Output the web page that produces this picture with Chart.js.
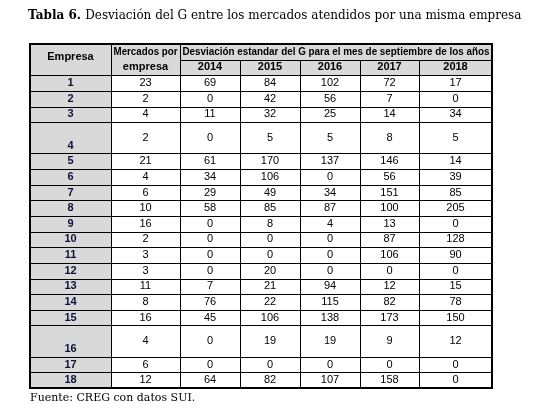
<!DOCTYPE html>
<html>
<head>
<meta charset="utf-8">
<script src="https://cdn.jsdelivr.net/npm/chart.js@4"></script>
<style>
  body { margin: 0; background: #fff; }
  #wrap { width: 545px; height: 410px; }
</style>
</head>
<body>
<div id="wrap"><canvas id="tabla"></canvas></div>
<script>
// datos de la tabla
const empresas = ['1','2','3','4','5','6','7','8','9','10','11','12','13','14','15','16','17','18'];
const mercados = [23, 2, 4, 2, 21, 4, 6, 10, 16, 2, 3, 3, 11, 8, 16, 4, 6, 12];
const anios = ['2014', '2015', '2016', '2017', '2018'];
const v2014 = [69, 0, 11, 0, 61, 34, 29, 58, 0, 0, 0, 0, 7, 76, 45, 0, 0, 64];
const v2015 = [84, 42, 32, 5, 170, 106, 49, 85, 8, 0, 0, 20, 21, 22, 106, 19, 0, 82];
const v2016 = [102, 56, 25, 5, 137, 0, 34, 87, 4, 0, 0, 0, 94, 115, 138, 19, 0, 107];
const v2017 = [72, 7, 14, 8, 146, 56, 151, 100, 13, 87, 106, 0, 12, 82, 173, 9, 0, 158];
const v2018 = [17, 0, 34, 5, 14, 39, 85, 205, 0, 128, 90, 0, 15, 78, 150, 12, 0, 0];
const filasDobles = ['4', '16'];

const series = [mercados, v2014, v2015, v2016, v2017, v2018];
const bordesCol = [0, 81, 150, 210, 270, 330, 389, 462]; // unidades del eje x
const altoHeader = 2;

// acumulado de filas (unidades eje y)
const inicioFila = [];
let acum = altoHeader;
empresas.forEach(e => {
    inicioFila.push(acum);
    acum += filasDobles.includes(e) ? 2 : 1;
});
const totalY = acum;

const GRIS = '#d9d9d9';
const fuenteTabla = 'Liberation Sans, Arial, sans-serif';

// texto centrado comprimido horizontalmente si no cabe
function textoAjustado(ctx, txt, cx, cy, ancho) {
    const w = ctx.measureText(txt).width;
    const k = Math.min(1, ancho / w);
    ctx.save();
    ctx.translate(cx, cy);
    ctx.scale(k, 1);
    ctx.fillText(txt, 0, 0);
    ctx.restore();
}

const tablaPlugin = {
    id: 'tabla',
    afterDraw(chart) {
        const { ctx, scales: { x, y } } = chart;
        const px = v => x.getPixelForValue(v);
        const py = v => y.getPixelForValue(v);
        ctx.save();

        // fondos
        ctx.fillStyle = GRIS;
        ctx.fillRect(px(0), py(0), px(bordesCol[7]) - px(0), py(altoHeader) - py(0));
        ctx.fillRect(px(0), py(0), px(bordesCol[1]) - px(0), py(totalY) - py(0));

        // lineas
        ctx.strokeStyle = '#000';
        ctx.lineWidth = 1;
        const linea = (x1, y1, x2, y2) => {
            ctx.beginPath();
            ctx.moveTo(Math.round(x1) + 0.5, Math.round(y1) + 0.5);
            ctx.lineTo(Math.round(x2) + 0.5, Math.round(y2) + 0.5);
            ctx.stroke();
        };
        linea(px(bordesCol[2]), py(1), px(bordesCol[7]), py(1));
        linea(px(0), py(altoHeader), px(bordesCol[7]), py(altoHeader));
        inicioFila.forEach(f => { if (f > altoHeader) linea(px(0), py(f), px(bordesCol[7]), py(f)); });
        for (let i = 1; i < bordesCol.length - 1; i++) {
            const y0 = (i >= 3) ? 1 : 0;
            linea(px(bordesCol[i]), py(y0), px(bordesCol[i]), py(totalY));
        }
        ctx.lineWidth = 2;
        ctx.strokeRect(px(0), py(0), px(bordesCol[7]) - px(0), py(totalY) - py(0));

        // encabezados
        ctx.fillStyle = '#000';
        ctx.textAlign = 'center';
        ctx.textBaseline = 'middle';
        ctx.font = 'bold 11px ' + fuenteTabla;
        const cx = (a, b) => (px(bordesCol[a]) + px(bordesCol[b])) / 2;
        const an = (a, b) => px(bordesCol[b]) - px(bordesCol[a]) - 5;
        textoAjustado(ctx, 'Empresa', cx(0, 1), py(0.85), an(0, 1));
        textoAjustado(ctx, 'Mercados por', cx(1, 2), py(0.5), an(1, 2));
        textoAjustado(ctx, 'empresa', cx(1, 2), py(1.5), an(1, 2));
        textoAjustado(ctx, 'Desviación estandar del G para el mes de septiembre de los años', cx(2, 7), py(0.5), an(2, 7));
        anios.forEach((a, i) => textoAjustado(ctx, a, cx(i + 2, i + 3), py(1.5), an(i + 2, i + 3)));

        // filas
        empresas.forEach((e, r) => {
            const alto = filasDobles.includes(e) ? 2 : 1;
            const f0 = inicioFila[r];
            ctx.font = 'bold 11px ' + fuenteTabla;
            ctx.fillStyle = '#10103a';
            ctx.fillText(e, cx(0, 1), py(f0 + alto - 0.5));
            ctx.font = '11px ' + fuenteTabla;
            ctx.fillStyle = '#000';
            series.forEach((s, c) => ctx.fillText(String(s[r]), cx(c + 1, c + 2), py(f0 + alto / 2)));
        });

        // titulo y fuente
        ctx.textAlign = 'left';
        ctx.textBaseline = 'alphabetic';
        ctx.font = 'bold 12px DejaVu Serif, serif';
        ctx.fillText('Tabla 6.', 28, 19);
        const w = ctx.measureText('Tabla 6. ').width;
        ctx.font = '12px DejaVu Serif, serif';
        ctx.fillText('Desviación del G entre los mercados atendidos por una misma empresa', 28 + w, 19);
        ctx.font = '11px DejaVu Serif, serif';
        ctx.fillText('Fuente: CREG con datos SUI.', 30, 401);
        ctx.restore();
    }
};

new Chart(document.getElementById('tabla'), {
    type: 'scatter',
    data: { datasets: [{ data: [] }] },
    options: {
        responsive: true,
        maintainAspectRatio: false,
        animation: false,
        layout: { padding: { left: 30, right: 53, top: 44, bottom: 22 } },
        plugins: { legend: { display: false }, tooltip: { enabled: false } },
        scales: {
            x: { type: 'linear', min: 0, max: bordesCol[7], display: false },
            y: { type: 'linear', min: 0, max: totalY, reverse: true, display: false }
        }
    },
    plugins: [tablaPlugin]
});
</script>
</body>
</html>
